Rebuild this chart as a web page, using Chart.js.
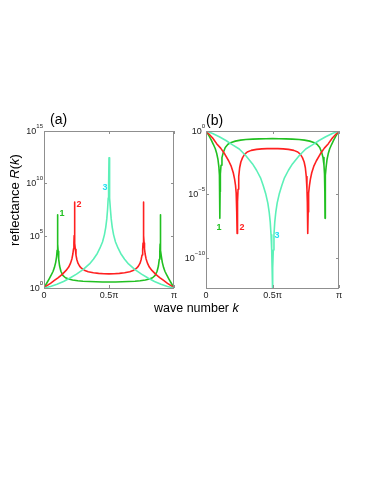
<!DOCTYPE html>
<html>
<head>
<meta charset="utf-8">
<script src="https://cdn.jsdelivr.net/npm/chart.js@4.4.1/dist/chart.umd.min.js"></script>
<style>
  body { margin: 0; background: #fff; width: 374px; height: 484px; position: relative; overflow: hidden;
         font-family: "Liberation Sans", Arial, sans-serif; }
  canvas { position: absolute; top: 0; }
  .t { position: absolute; white-space: nowrap; color: #000; line-height: 1; }
  .c { transform: translate(-50%, -50%); font-weight: bold; font-size: 9px; }
</style>
</head>
<body>
<canvas id="chartA" width="185" height="484" style="left:0"></canvas>
<canvas id="chartB" width="189" height="484" style="left:185px"></canvas>

<div class="t" style="left:50px;top:112px;font-size:14px">(a)</div>
<div class="t" style="left:206px;top:113px;font-size:14px">(b)</div>
<div class="t" style="left:14px;top:200px;font-size:13px;transform:translate(-50%,-50%) rotate(-90deg)">reflectance <i>R</i>(<i>k</i>)</div>
<div class="t" style="left:154px;top:302px;font-size:12.5px">wave number <i>k</i></div>

<div class="t c" style="left:62px;top:213px;color:#22c022">1</div>
<div class="t c" style="left:79px;top:204px;color:#ff2020">2</div>
<div class="t c" style="left:105px;top:187px;color:#20e0f0">3</div>
<div class="t c" style="left:219px;top:227px;color:#22c022">1</div>
<div class="t c" style="left:242px;top:227px;color:#ff2020">2</div>
<div class="t c" style="left:277px;top:235px;color:#20e0f0">3</div>

<script>
// wave number k, in units of pi
const kGreen = [0, 0.01, 0.025, 0.04, 0.055, 0.07, 0.08, 0.09, 0.097, 0.101, 0.103, 0.104, 0.105, 0.106, 0.107, 0.109, 0.113, 0.12, 0.13, 0.145, 0.165, 0.19, 0.22, 0.26, 0.3, 0.35, 0.4, 0.45, 0.5,
  0.55, 0.6, 0.65, 0.7, 0.74, 0.78, 0.81, 0.835, 0.855, 0.87, 0.88, 0.887, 0.891, 0.893, 0.894, 0.895, 0.896, 0.897, 0.899, 0.903, 0.91, 0.92, 0.93, 0.945, 0.96, 0.975, 0.99, 1];
const kRed = [0, 0.02, 0.05, 0.08, 0.11, 0.14, 0.17, 0.19, 0.205, 0.215, 0.222, 0.227, 0.23, 0.232, 0.234, 0.236, 0.238, 0.241, 0.246, 0.253, 0.262, 0.275, 0.29, 0.31, 0.34, 0.38, 0.42, 0.46, 0.5,
  0.54, 0.58, 0.62, 0.66, 0.69, 0.71, 0.725, 0.738, 0.747, 0.754, 0.759, 0.762, 0.764, 0.766, 0.768, 0.77, 0.773, 0.778, 0.785, 0.795, 0.81, 0.83, 0.86, 0.89, 0.92, 0.95, 0.98, 1];
const kCyan = [0, 0.05, 0.1, 0.15, 0.2, 0.25, 0.3, 0.35, 0.38, 0.41, 0.43, 0.45, 0.465, 0.475, 0.483, 0.489, 0.494, 0.497, 0.5,
  0.503, 0.506, 0.511, 0.517, 0.525, 0.535, 0.55, 0.57, 0.59, 0.62, 0.65, 0.7, 0.75, 0.8, 0.85, 0.9, 0.95, 1];

// panel (a): reflectance, log10 R(k)
const greenA = [0, 0.22, 0.55, 0.88, 1.22, 1.6, 1.95, 2.45, 3.0, 3.6, 4.2, 4.8, 7.0, 4.8, 4.2, 3.5, 2.75, 2.1, 1.6, 1.2, 0.98, 0.86, 0.77, 0.7, 0.65, 0.62, 0.6, 0.58, 0.57,
  0.58, 0.6, 0.62, 0.65, 0.7, 0.77, 0.86, 0.98, 1.2, 1.6, 2.1, 2.75, 3.5, 4.2, 4.8, 7.0, 4.8, 4.2, 3.6, 3.0, 2.45, 1.95, 1.6, 1.22, 0.88, 0.55, 0.22, 0];
const redA = [0, 0.2, 0.45, 0.72, 1.0, 1.3, 1.68, 2.0, 2.4, 2.8, 3.25, 3.75, 4.3, 5.0, 8.2, 5.0, 4.3, 3.7, 3.15, 2.7, 2.35, 2.07, 1.87, 1.7, 1.56, 1.46, 1.4, 1.36, 1.35,
  1.36, 1.4, 1.46, 1.56, 1.7, 1.87, 2.07, 2.35, 2.7, 3.15, 3.7, 4.3, 5.0, 8.2, 5.0, 4.3, 3.75, 3.25, 2.8, 2.4, 2.0, 1.68, 1.3, 1.0, 0.72, 0.45, 0.2, 0];
const cyanA = [0, 0.15, 0.35, 0.62, 0.95, 1.32, 1.75, 2.3, 2.75, 3.3, 3.8, 4.4, 5.1, 5.8, 6.6, 7.5, 8.6, 9.8, 12.45,
  9.8, 8.6, 7.5, 6.6, 5.8, 5.1, 4.4, 3.8, 3.3, 2.75, 2.3, 1.75, 1.32, 0.95, 0.62, 0.35, 0.15, 0];

// panel (b): log10 R(k)
const greenB = [0, -0.17, -0.42, -0.72, -1.05, -1.4, -1.75, -2.25, -2.85, -3.5, -4.1, -4.8, -6.9, -4.8, -4.1, -3.4, -2.7, -2.1, -1.7, -1.3, -1.05, -0.9, -0.8, -0.72, -0.67, -0.64, -0.62, -0.61, -0.6,
  -0.61, -0.62, -0.64, -0.67, -0.72, -0.8, -0.9, -1.05, -1.3, -1.7, -2.1, -2.7, -3.4, -4.1, -4.8, -6.9, -4.8, -4.1, -3.5, -2.85, -2.25, -1.75, -1.4, -1.05, -0.72, -0.42, -0.17, 0];
const redB = [0, -0.22, -0.55, -1.0, -1.35, -1.8, -2.35, -2.8, -3.3, -3.8, -4.3, -4.9, -5.6, -6.4, -8.1, -6.4, -5.6, -4.6, -3.6, -2.9, -2.45, -2.1, -1.85, -1.66, -1.53, -1.45, -1.41, -1.39, -1.38,
  -1.39, -1.41, -1.45, -1.53, -1.66, -1.85, -2.1, -2.45, -2.9, -3.6, -4.6, -5.6, -6.4, -8.1, -6.4, -5.6, -4.9, -4.3, -3.8, -3.3, -2.8, -2.35, -1.8, -1.35, -1.0, -0.55, -0.22, 0];
const cyanB = [0, -0.2, -0.45, -0.75, -1.1, -1.42, -1.95, -2.6, -3.1, -3.7, -4.3, -5.0, -5.7, -6.4, -7.2, -8.2, -9.4, -10.8, -13,
  -10.8, -9.4, -8.2, -7.2, -6.4, -5.7, -5.0, -4.3, -3.7, -3.1, -2.6, -1.95, -1.42, -1.1, -0.75, -0.45, -0.2, 0];

const xTicks = [0, 0.5, 1];
const xTickLabels = ['0', '0.5\u03c0', '\u03c0'];
const yTicksA = [0, 5, 10, 15];
const yTicksB = [0, -5, -10];

const colGreen = '#22c022', colRed = '#ff2020', colCyan = '#5cf0b8';

function pts(k, lg) {
  return k.map((v, i) => ({ x: v, y: Math.pow(10, lg[i]) }));
}

// box, inward ticks and tick labels, MATLAB style
const frame = {
  id: 'frame',
  afterDraw(chart, args, opts) {
    const { ctx, chartArea: a, scales: { x, y } } = chart;
    ctx.save();
    ctx.strokeStyle = '#8f8f8f';
    ctx.lineWidth = 1;
    ctx.strokeRect(a.left + 0.5, a.top + 0.5, a.right - a.left - 1, a.bottom - a.top);
    ctx.fillStyle = '#222';
    ctx.beginPath();
    xTicks.forEach((v, i) => {
      const px = Math.round(x.getPixelForValue(v)) + 0.5;
      ctx.moveTo(px, a.bottom); ctx.lineTo(px, a.bottom - 3);
      ctx.moveTo(px, a.top); ctx.lineTo(px, a.top + 3);
    });
    opts.yTicks.forEach(e => {
      const py = Math.round(y.getPixelForValue(Math.pow(10, e))) + 0.5;
      ctx.moveTo(a.left, py); ctx.lineTo(a.left + 3, py);
      ctx.moveTo(a.right, py); ctx.lineTo(a.right - 3, py);
    });
    ctx.stroke();
    ctx.textAlign = 'center';
    ctx.textBaseline = 'top';
    ctx.font = '9px "Liberation Sans", Arial, sans-serif';
    xTicks.forEach((v, i) => ctx.fillText(xTickLabels[i], x.getPixelForValue(v), a.bottom + 3));
    opts.yTicks.forEach(e => {
      const py = y.getPixelForValue(Math.pow(10, e));
      const ex = String(e).replace('-', '\u2212');
      ctx.font = '6px "Liberation Sans", Arial, sans-serif';
      const w = ctx.measureText(ex).width;
      ctx.textAlign = 'left';
      ctx.textBaseline = 'middle';
      ctx.fillText(ex, a.left - 1 - w, py - 4.5);
      ctx.font = '9px "Liberation Sans", Arial, sans-serif';
      ctx.textAlign = 'right';
      ctx.fillText('10', a.left - 1 - w, py + 0.5);
    });
    ctx.restore();
  }
};

function makeChart(id, sets, yMin, yMax, pad, yTicks) {
  return new Chart(document.getElementById(id), {
    type: 'line',
    data: {
      datasets: [
        { data: pts(kCyan, sets[2]), borderColor: colCyan },
        { data: pts(kRed, sets[1]), borderColor: colRed },
        { data: pts(kGreen, sets[0]), borderColor: colGreen }
      ]
    },
    options: {
      responsive: false,
      animation: false,
      layout: { padding: pad },
      elements: {
        point: { radius: 0 },
        line: { borderWidth: 1.6, tension: 0, fill: false, borderJoinStyle: 'round' }
      },
      plugins: { legend: { display: false }, tooltip: { enabled: false }, frame: { yTicks: yTicks } },
      scales: {
        x: { type: 'linear', min: 0, max: 1, display: false },
        y: { type: 'logarithmic', min: yMin, max: yMax, display: false }
      }
    },
    plugins: [frame]
  });
}

makeChart('chartA', [greenA, redA, cyanA], 1, 1e15, { left: 44, top: 131, right: 11, bottom: 196 }, yTicksA);
makeChart('chartB', [greenB, redB, cyanB], Math.pow(10, -12.4), 1, { left: 21, top: 131, right: 35, bottom: 196 }, yTicksB);
</script>
</body>
</html>
